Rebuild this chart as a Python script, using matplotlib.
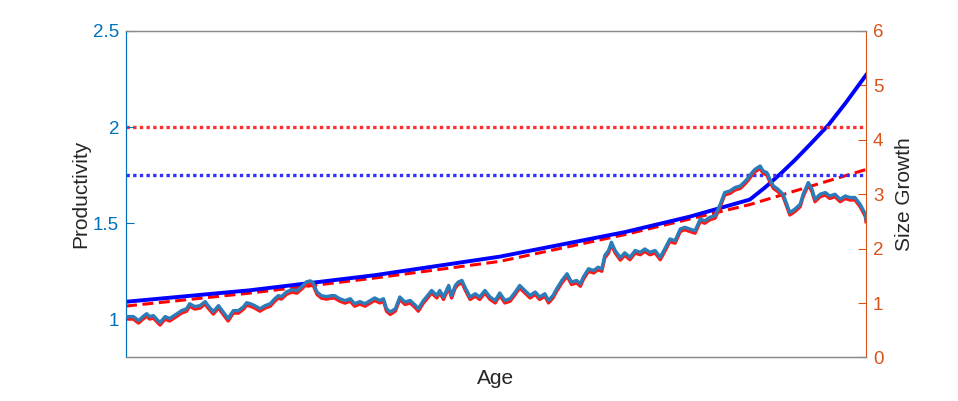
import numpy as np
import matplotlib
matplotlib.use("Agg")
import matplotlib.pyplot as plt
import matplotlib.transforms as mtransforms

plt.rcParams['font.family'] = ['Liberation Sans', 'DejaVu Sans']

# =========================================================
# DATA
# =========================================================

# simulated productivity path (left axis)
path_age = [
    0.1, 1.0, 1.7, 2.3, 2.8, 3.2, 3.7, 4.6, 5.3, 5.9, 6.9, 7.5, 8.2, 8.6, 9.3,
    10.0, 10.7, 11.1, 11.8, 12.5, 13.1, 13.8, 14.5, 15.2, 15.9, 16.3, 16.8,
    17.4, 18.1, 18.8, 19.5, 20.1, 20.6, 21.0, 21.7, 22.4, 23.1, 23.7, 24.4,
    24.9, 25.3, 25.8, 26.4, 27.1, 27.8, 28.2, 28.9, 29.6, 30.3, 30.9, 31.6,
    32.3, 33.0, 33.6, 34.3, 34.8, 35.2, 35.7, 36.4, 37.0, 37.7, 38.4, 39.1,
    39.5, 40.2, 40.6, 41.3, 42.0, 42.4, 42.9, 43.6, 44.0, 44.5, 44.9, 45.4,
    45.8, 46.5, 47.2, 47.8, 48.5, 49.2, 49.9, 50.5, 51.2, 51.9, 52.6, 53.2,
    53.9, 54.6, 55.3, 55.9, 56.6, 57.1, 57.7, 58.2, 58.9, 59.6, 60.2, 60.9,
    61.4, 61.8, 62.5, 63.2, 63.8, 64.3, 64.7, 65.2, 65.6, 66.1, 66.8, 67.4,
    68.1, 68.8, 69.5, 70.1, 70.8, 71.5, 72.2, 72.8, 73.5, 74.2, 74.9, 75.5,
    76.2, 76.9, 77.6, 78.2, 78.9, 79.6, 80.3, 80.9, 81.6, 82.3, 83.0, 83.6,
    84.1, 84.6, 85.0, 85.7, 86.1, 86.6, 87.0, 87.5, 88.1, 88.8, 89.3, 89.7,
    90.4, 91.1, 91.5, 92.2, 92.7, 93.1, 93.8, 94.5, 95.1, 95.8, 96.5, 97.2,
    97.8, 98.5, 99.2, 99.9, 100.0,
]
path_prod = [
    1.013, 1.013, 0.992, 1.013, 1.028, 1.013, 1.018, 0.982, 1.013, 1.003,
    1.028, 1.044, 1.054, 1.080, 1.065, 1.070, 1.091, 1.070, 1.039, 1.070,
    1.039, 1.003, 1.044, 1.044, 1.065, 1.085, 1.080,
    1.070, 1.054, 1.070, 1.080, 1.106, 1.122, 1.117, 1.142, 1.153, 1.148,
    1.168, 1.194, 1.199, 1.189, 1.142, 1.122, 1.117, 1.122, 1.122, 1.106,
    1.096, 1.106, 1.080, 1.091, 1.080, 1.096, 1.110, 1.097, 1.106, 1.054,
    1.037, 1.054, 1.115, 1.089, 1.097, 1.072, 1.054, 1.097, 1.115, 1.149,
    1.123, 1.149, 1.115, 1.175, 1.123, 1.175, 1.193, 1.201, 1.167, 1.115,
    1.132, 1.115, 1.149, 1.115, 1.097, 1.136, 1.097, 1.106, 1.141, 1.175,
    1.149, 1.123, 1.141, 1.115, 1.132, 1.097, 1.123, 1.158, 1.201, 1.236,
    1.193, 1.201, 1.184, 1.219, 1.262, 1.253, 1.270, 1.262, 1.331, 1.357,
    1.400, 1.357, 1.320, 1.345, 1.322, 1.357, 1.348, 1.365, 1.348, 1.357,
    1.322, 1.365, 1.417, 1.408, 1.469, 1.478, 1.469, 1.460, 1.521, 1.512,
    1.530, 1.538, 1.598, 1.659, 1.667, 1.685, 1.693, 1.715, 1.737, 1.763,
    1.780, 1.797, 1.771, 1.763, 1.728, 1.693, 1.676, 1.650, 1.598, 1.555,
    1.573, 1.598, 1.650, 1.711, 1.676, 1.624, 1.650, 1.659, 1.641, 1.650,
    1.624, 1.641, 1.633, 1.633, 1.598, 1.547, 1.520,
]

# size growth curves (right axis)
growth_age = [0.0, 16.8, 33.6, 50.5, 67.4, 76.2, 84.3, 86.4, 88.4, 90.4,
              92.4, 94.9, 97.2, 100.0]
growth_solid = [1.024, 1.236, 1.512, 1.853, 2.304, 2.589, 2.902, 3.13,
                3.37, 3.63, 3.91, 4.27, 4.67, 5.19]

trend_age = [0.0, 16.8, 33.6, 50.5, 67.4, 84.3, 100.0]
growth_dashed = [0.945, 1.184, 1.460, 1.766, 2.258, 2.810, 3.455]

# productivity thresholds
upper_level = 2.0
lower_level = 1.75

BLUE_AX = '#0072BD'
ORANGE_AX = '#D95319'

# =========================================================
# FIGURE
# =========================================================

fig = plt.figure(figsize=(9.58, 4.01), dpi=100)
ax = fig.add_axes([0.1315, 0.1085, 0.7725, 0.8142])
ax2 = ax.twinx()

# noisy productivity path, red copy drawn a touch lower
shift = mtransforms.offset_copy(ax.transData, fig=fig, y=-2.5, units='dots')
ax.plot(path_age, path_prod, color='#ff1a1a', linewidth=2.4,
        transform=shift, zorder=2)
ax.plot(path_age, path_prod, color='#2a7db8', linewidth=2.4, zorder=3)

# threshold lines
ax.axhline(upper_level, color='#ff3030', linewidth=2.4,
           linestyle=(0, (1, 1.0)), dash_capstyle='butt', zorder=1)
ax.axhline(lower_level, color='#3030ff', linewidth=2.4,
           linestyle=(0, (1, 1.0)), dash_capstyle='butt', zorder=1)

# size growth
ax2.plot(trend_age, growth_dashed, color='#ff0000', linewidth=2.2,
         linestyle=(0, (3.6, 1.8)), dash_capstyle='butt', zorder=4)
ax2.plot(growth_age, growth_solid, color='#0000ff', linewidth=2.8, zorder=5)

# =========================================================
# AXES STYLE
# =========================================================

ax.set_xlim(0, 100)
ax.set_ylim(0.8, 2.5)
ax.set_yticks([1, 1.5, 2, 2.5])
ax.set_yticklabels(['1', '1.5', '2', '2.5'])
ax.set_xticks([])

ax2.set_ylim(0, 6)
ax2.set_yticks([0, 1, 2, 3, 4, 5, 6])

ax.tick_params(axis='y', direction='in', length=6, width=0.8,
               colors=BLUE_AX, labelsize=13.5, pad=5)
ax2.tick_params(axis='y', direction='in', length=6, width=0.8,
                colors=ORANGE_AX, labelsize=13.5, pad=5)

for a in (ax, ax2):
    a.spines['top'].set_color('#8a8a8a')
    a.spines['bottom'].set_color('#8a8a8a')
    a.spines['top'].set_linewidth(0.9)
    a.spines['bottom'].set_linewidth(0.9)
ax2.spines['left'].set_color(BLUE_AX)
ax2.spines['right'].set_color(ORANGE_AX)
ax.spines['left'].set_color(BLUE_AX)
ax.spines['right'].set_visible(False)

ax.set_xlabel("Age", fontsize=15, color='#262626', labelpad=8)
ax.set_ylabel("Productivity", fontsize=15, color='#262626', labelpad=2)
ax2.set_ylabel("Size Growth", fontsize=15, color='#262626', labelpad=8)

ax.set_zorder(ax2.get_zorder() + 1)
ax.patch.set_visible(False)

fig.savefig("out.png", dpi=100)
